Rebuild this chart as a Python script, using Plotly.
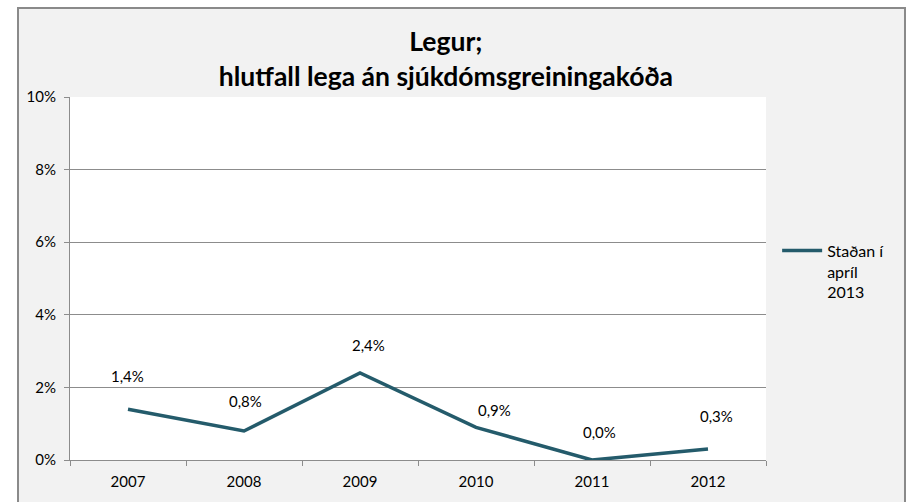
import plotly.graph_objects as go

years = ["2007", "2008", "2009", "2010", "2011", "2012"]
values = [1.4, 0.8, 2.4, 0.9, 0.0, 0.3]
series_name = "Staðan í<br>apríl<br>2013"
title_text = "<b>Legur;<br>hlutfall lega án sjúkdómsgreiningakóða</b>"
y_ticks = [0, 2, 4, 6, 8, 10]
y_ticktext = [f"{v}%" for v in y_ticks]

labels = [f"{v:.1f}".replace(".", ",") + "%" for v in values]

FONT = "Lato, 'Open Sans', sans-serif"
LINE_COLOR = "#245b6b"
GRID = "#8c8c8c"
# pixel offsets of the data labels relative to their points (styling)
label_yshift = [33, 30, 28, 17, 28, 33]
label_xshift = [-1, 1, 8, 18, 7, 8]

fig = go.Figure()
fig.add_trace(go.Scatter(
    x=years, y=values, mode="lines", name=series_name,
    line=dict(color=LINE_COLOR, width=3.5),
    hoverinfo="skip",
))

# data labels (category index used as position on the category axis)
for i, (v, t) in enumerate(zip(values, labels)):
    fig.add_annotation(x=i, y=v, xref="x", yref="y", text=t, showarrow=False,
                       yshift=label_yshift[i], xshift=label_xshift[i],
                       font=dict(family=FONT, size=15, color="#000"))

# outer chart frame (grey) and white plot area
fig.add_shape(type="rect", xref="paper", yref="paper",
              x0=-0.0747, x1=1.1997, y0=-0.2, y1=1.2452,
              fillcolor="#f2f2f2", line=dict(color="#8a8a8a", width=2), layer="below")
fig.add_shape(type="rect", xref="paper", yref="paper",
              x0=0, x1=1, y0=0, y1=1,
              fillcolor="#ffffff", line=dict(width=0), layer="below")

fig.update_layout(
    width=910, height=502,
    margin=dict(l=70, r=144, t=97, b=42),
    paper_bgcolor="#ffffff",
    plot_bgcolor="rgba(0,0,0,0)",
    font=dict(family=FONT, size=15, color="#000"),
    title=dict(text=title_text, x=0.49, xanchor="center", y=0.898, yanchor="middle",
               font=dict(family=FONT, size=26.5, color="#000")),
    showlegend=True,
    legend=dict(x=1.016, y=0.519, xanchor="left", yanchor="middle", valign="top",
                bgcolor="rgba(0,0,0,0)", font=dict(family=FONT, size=16),
                itemwidth=40),
    xaxis=dict(type="category", tickson="boundaries", ticks="outside", ticklen=5,
               tickcolor=GRID, showline=True, linecolor=GRID, linewidth=1,
               showgrid=False, tickfont=dict(size=15), range=[-0.5, 5.5],
               ticklabelstandoff=8, fixedrange=True),
    yaxis=dict(range=[0, 10], tickmode="array", tickvals=y_ticks, ticktext=y_ticktext,
               ticks="outside", ticklen=5, tickcolor=GRID, showline=True,
               linecolor=GRID, linewidth=1, showgrid=True, gridcolor=GRID,
               gridwidth=1, zeroline=False, tickfont=dict(size=15),
               ticklabelstandoff=5, fixedrange=True),
)

fig.write_html("out.html", config={"displayModeBar": False},
               post_script="document.body.style.margin='0';document.body.style.padding='0';")
